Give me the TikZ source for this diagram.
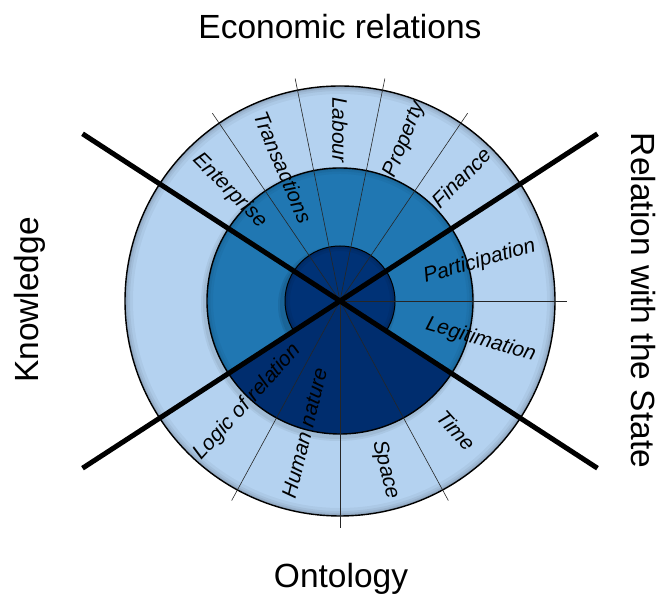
\documentclass[tikz,border=0pt]{standalone}
\usepackage{fontspec}
\setmainfont{Liberation Sans}
\usetikzlibrary{calc}
\definecolor{lightb}{RGB}{180,210,240}
\definecolor{midb}{RGB}{32,119,178}
\definecolor{darkb}{RGB}{0,45,110}
\definecolor{innerb}{RGB}{0,50,118}
\begin{document}
\begin{tikzpicture}[x=1pt,y=1pt,
  lbl/.style={font=\fontsize{21}{21}\selectfont\itshape, inner sep=0pt},
  ttl/.style={font=\fontsize{33.5}{33.5}\selectfont, inner sep=0pt},
  divider/.style={line width=0.6pt, black!85},
  axisline/.style={line width=5pt, black},
  ring/.style={line width=1.4pt, black}]
\useasboundingbox (0,0) rectangle (661,596);
\coordinate (c) at (340,295);
% outer ring
\fill[lightb] (c) circle (215);
\begin{scope}
  \clip (c) circle (215);
  \foreach \w/\o in {16/0.04,10/0.05,6/0.06,3/0.08}
    \draw[line width=\w pt, black, opacity=\o] (c) circle (215);
\end{scope}
\draw[ring] (c) circle (215);
% shadow of middle circle
\foreach \r/\o in {137/0.05,135/0.06}
  \fill[black, opacity=\o] ($(c)+(-2,-3)$) circle (\r);
% middle circle
\fill[midb] (c) circle (133);
\begin{scope}
  \clip (c) circle (133);
  \foreach \w/\o in {12/0.04,7/0.05,3/0.07}
    \draw[line width=\w pt, black, opacity=\o] (c) circle (133);
\end{scope}
% shadow of inner circle
\foreach \r/\o in {59/0.08,57/0.08}
  \fill[black, opacity=\o] ($(c)+(-3,-4)$) circle (\r);
% inner circle
\fill[innerb] (c) circle (55);
\begin{scope}
  \clip (c) circle (55);
  \foreach \w/\o in {10/0.06,5/0.08}
    \draw[line width=\w pt, black, opacity=\o] (c) circle (55);
\end{scope}
\draw[line width=1pt, black] (c) circle (55);
% dark wedge
\fill[darkb] (c) -- ($(c)+(213:133)$) arc[start angle=213, end angle=327, radius=133] -- cycle;
\draw[ring] (c) circle (133);
% thin dividers
\foreach \a in {55.8,78.6,101.4,124.2,0,241.5,270,298.5}
  \draw[divider] (c) -- ($(c)+(\a:227)$);
% thick axis lines
\coordinate (t1) at ($(c)+(147:307)$);
\coordinate (t2) at ($(c)+(-33:307)$);
\coordinate (t3) at ($(c)+(213:307)$);
\coordinate (t4) at ($(c)+(33:307)$);
\draw[axisline] (t1) -- (t2);
\draw[axisline] (t3) -- (t4);
% labels
\node[lbl, rotate=-45] (enterprise) at ($(c)+(135:156)$) {Enterprise};
\node[lbl, rotate=-67] (transactions) at ($(c)+(113:145)$) {Transactions};
\node[lbl, rotate=-90] (labour) at ($(c)+(90:171)$) {Labour};
\node[lbl, rotate=68] (property) at ($(c)+(68:174)$) {Property};
\node[lbl, rotate=45] (finance) at ($(c)+(45.5:173)$) {Finance};
\node[lbl, rotate=16] (participation) at ($(c)+(15.7:145)$) {Participation};
\node[lbl, rotate=-16] (legitimation) at ($(c)+(-15.5:146)$) {Legitimation};
\node[lbl, rotate=47.7] (logic) at ($(c)+(227.7:137)$) {Logic of relation};
\node[lbl, rotate=76] (human) at ($(c)+(255:137)$) {Human nature};
\node[lbl, rotate=-76] (space) at ($(c)+(-75:175)$) {Space};
\node[lbl, rotate=-48] (time) at ($(c)+(-48:174)$) {Time};
% titles
\node[ttl, anchor=base] (econ) at (340,557) {Economic relations};
\node[ttl, anchor=base] (onto) at (341,8) {Ontology};
\node[ttl, anchor=base, rotate=90] (know) at (39,296) {Knowledge};
\node[ttl, anchor=base, rotate=-90] (state) at (631,295.5) {Relation with the State};
\end{tikzpicture}
\end{document}
